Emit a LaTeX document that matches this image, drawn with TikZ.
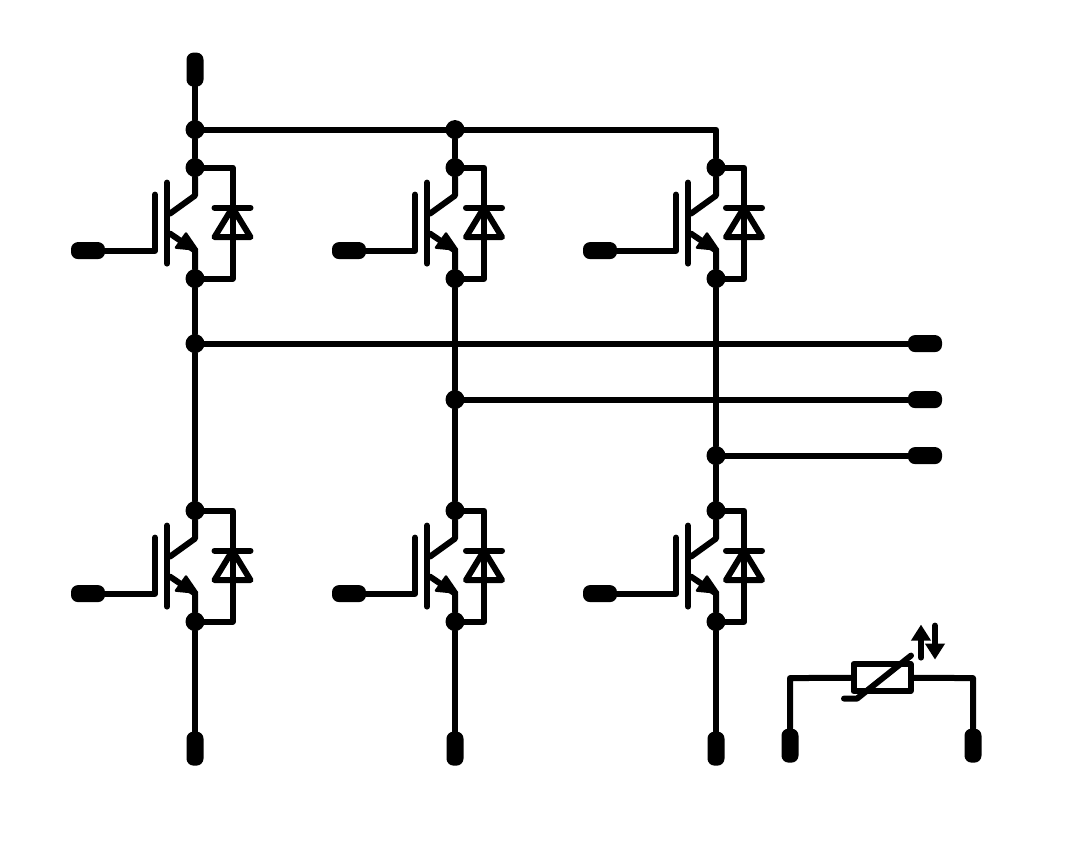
\documentclass[tikz,border=0pt]{standalone}
\usepackage{tikz}
\usetikzlibrary{arrows.meta}
\tikzset{
  wire/.style={line width=6pt, line cap=round, line join=round},
  dot/.style={circle, fill=black, inner sep=0pt, minimum size=19pt},
  padh/.style={fill=black, rounded corners=7pt, inner sep=0pt, minimum width=34pt, minimum height=17pt},
  padv/.style={fill=black, rounded corners=7pt, inner sep=0pt, minimum width=17pt, minimum height=34pt}
}
% #1 name, #2 x of collector, #3 y of collector, #4 x of gate pad, #5 x of diode
\newcommand{\igbt}[5]{
  \node[dot] (#1c) at (#2, #3) {};
  \node[dot] (#1e) at (#2, #3+111) {};
  \node[padh] (#1g) at (#4, #3+83) {};
  \begin{scope}[shift={(#2, #3)}]
    \coordinate (#1gt) at (-40, 27);
    \coordinate (#1gb) at (-40, 83);
    \draw [wire] (#1g) -- (#1gb) -- (#1gt);
    \draw [wire] (-28, 15) -- (-28, 96);
    \draw [wire] (#1c) -- (0, 28) -- (-25, 46);
    \draw [wire] (-25, 66) -- (0, 83) -- (#1e);
    \fill [line width=2.5pt, draw=black, line join=round] (-9, 66) -- (-19, 80) -- (2, 82) -- cycle;
    % diode
    \draw [wire] (#1c) -- (#5, 0) -- (#5, 111) -- (#1e);
    \draw [wire] (#5-18, 40) -- (#5+18, 40);
    \draw [wire] (#5, 40) -- (#5-18, 69.5) -- (#5+18, 69.5) -- cycle;
  \end{scope}
}
\begin{document}
\begin{tikzpicture}[x=1pt, y=-1pt]
  \useasboundingbox (0, -0.6) rectangle (1080, 849.4);
  \igbt{a}{195}{167}{88}{37.5}
  \igbt{b}{455}{167}{349}{29}
  \igbt{c}{716}{167}{600}{28}
  \igbt{d}{195}{510}{88}{37.5}
  \igbt{e}{455}{510}{349}{29}
  \igbt{f}{716}{510}{600}{28}
  % dc rail
  \node[padv] (top) at (195, 69) {};
  \node[dot] (rail1) at (195, 129) {};
  \node[dot] (rail2) at (455, 129) {};
  \coordinate (rail3) at (716, 129);
  \draw [wire] (top) -- (rail1) -- (ac);
  \draw [wire] (rail1) -- (rail2) -- (rail3) -- (cc);
  \draw [wire] (rail2) -- (bc);
  % phases
  \node[dot] (u) at (195, 343) {};
  \node[dot] (v) at (455, 399) {};
  \node[dot] (w) at (716, 455) {};
  \node[padh] (uout) at (925, 343) {};
  \node[padh] (vout) at (925, 399) {};
  \node[padh] (wout) at (925, 455) {};
  \draw [wire] (ae) -- (u) -- (dc);
  \draw [wire] (be) -- (v) -- (ec);
  \draw [wire] (ce) -- (w) -- (fc);
  \draw [wire] (u) -- (uout);
  \draw [wire] (v) -- (vout);
  \draw [wire] (w) -- (wout);
  % bottom rail
  \node[padv] (n1) at (195, 748) {};
  \node[padv] (n2) at (455, 748) {};
  \node[padv] (n3) at (716, 748) {};
  \draw [wire] (de) -- (n1);
  \draw [wire] (ee) -- (n2);
  \draw [wire] (fe) -- (n3);
  % thermistor
  \node[padv] (t1) at (790, 745) {};
  \node[padv] (t2) at (973, 745) {};
  \node[draw, line width=6pt, inner sep=0pt, minimum width=57pt, minimum height=27pt, line join=round] (ntc) at (882, 677) {};
  \coordinate (t1a) at (790, 677.5);
  \coordinate (t2a) at (973, 677.5);
  \draw [wire] (t1) -- (t1a) -- (ntc);
  \draw [wire] (t2) -- (t2a) -- (ntc);
  \draw [wire] (844, 698) -- (857, 698) -- (911, 655);
  \draw [wire, -{Triangle[length=16pt, width=19pt]}] (921, 657) -- (921, 624);
  \draw [wire, -{Triangle[length=16pt, width=19pt]}] (935, 625) -- (935, 659);
\end{tikzpicture}
\end{document}
